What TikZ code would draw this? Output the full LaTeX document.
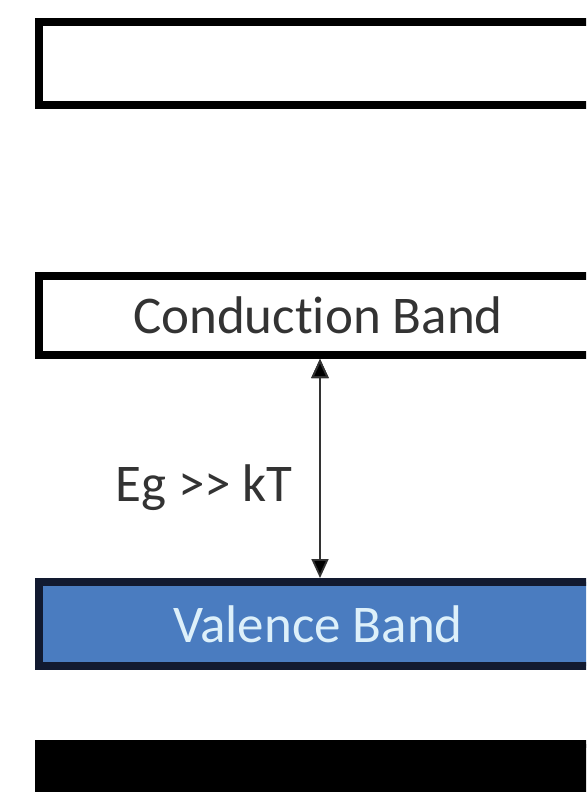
\documentclass[tikz,border=0pt]{standalone}
\usepackage{fontspec}
\setmainfont[Ligatures={NoCommon}]{Carlito}
\usetikzlibrary{arrows.meta}
\definecolor{valblue}{HTML}{4A7CC0}
\definecolor{valedge}{HTML}{121A30}
\definecolor{valtext}{HTML}{DDF0FA}
\definecolor{labgray}{HTML}{333333}
\begin{document}
\begin{tikzpicture}[x=1pt,y=-1pt,font=\fontsize{53}{60}\selectfont,>={Triangle[length=19pt,width=17pt]}]
                \useasboundingbox (0,0) rectangle (586,792);
                \clip (0,0) rectangle (586,792);

                \node[shape=rectangle,draw=black,line width=8pt,minimum width=558pt,minimum height=83pt] (top) at (318,63.5) {};
                \node[shape=rectangle,draw=black,line width=8pt,minimum width=558pt,minimum height=79pt,text=labgray] (cb) at (318,315.5) {Conduction Band};
                \node[shape=rectangle,draw=valedge,fill=valblue,line width=8pt,minimum width=558pt,minimum height=84pt,text=valtext] (vb) at (318,624) {Valence Band};
                \node[shape=rectangle,draw=black,fill=black,line width=8pt,minimum width=558pt,minimum height=92pt] (bot) at (318,790) {};

                \node[text=labgray] (eg) at (204,488) {Eg {>}{>} kT};

                \draw[<->,line width=1.8pt,draw=labgray] ([xshift=2pt]cb.south) edge ([xshift=2pt]vb.north);

            \end{tikzpicture}
\end{document}
